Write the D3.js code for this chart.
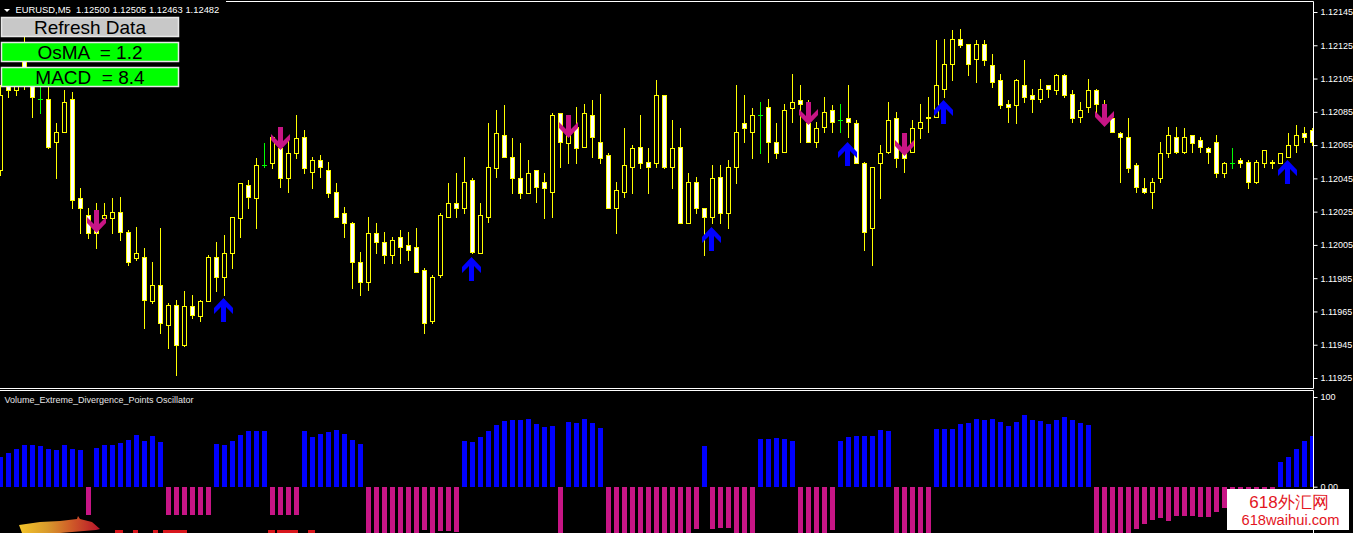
<!DOCTYPE html>
<html>
<head>
<meta charset="utf-8">
<title>EURUSD,M5</title>
<script src="https://cdn.jsdelivr.net/npm/d3@7"></script>
<style>
    html, body { margin: 0; padding: 0; background: #000; overflow: hidden; }
    #chart svg { display: block; }
    text { font-family: "Liberation Sans", Arial, sans-serif; }
    .axis text { font-size: 9px; fill: #fff; }
    .axis line { stroke: #fff; }
</style>
</head>
<body>
<div id="chart"></div>
<script>
// Candles, oldest on the left
const opens = [
    1.12050, 1.12107, 1.12098, 1.12125, 1.12102, 1.12093, 1.12093, 1.12067, 1.12073, 1.12093,
    1.12033, 1.12023, 1.12017, 1.12021, 1.12021, 1.12025, 1.12013, 1.11997, 1.11998, 1.11971,
    1.11981, 1.11957, 1.11969, 1.11945, 1.11968, 1.11962, 1.11971, 1.11998, 1.11986, 1.12000,
    1.12021, 1.12041, 1.12033, 1.12053, 1.12054, 1.12063, 1.12045, 1.12060, 1.12070, 1.12049,
    1.12056, 1.12050, 1.12037, 1.12024, 1.12018, 1.11995, 1.11983, 1.12012, 1.12007, 1.11999,
    1.12010, 1.12005, 1.12004, 1.11990, 1.11959, 1.11987, 1.12022, 1.12030, 1.12027, 1.12044,
    1.12000, 1.12022, 1.12051, 1.12071, 1.12058, 1.12045, 1.12036, 1.12050, 1.12043, 1.12037,
    1.12084, 1.12066, 1.12076, 1.12064, 1.12083, 1.12067, 1.12059, 1.12027, 1.12037, 1.12052,
    1.12064, 1.12055, 1.12054, 1.12095, 1.12052, 1.12064, 1.12018, 1.12043, 1.12027, 1.12022,
    1.12046, 1.12024, 1.12052, 1.12078, 1.12073, 1.12083, 1.12088, 1.12067, 1.12061, 1.12087,
    1.12092, 1.12078, 1.12067, 1.12076, 1.12086, 1.12080, 1.12081, 1.12078, 1.12054, 1.12015,
    1.12054, 1.12061, 1.12081, 1.12061, 1.12061, 1.12075, 1.12082, 1.12082, 1.12099, 1.12114,
    1.12129, 1.12126, 1.12117, 1.12126, 1.12113, 1.12104, 1.12090, 1.12089, 1.12101, 1.12095,
    1.12093, 1.12101, 1.12098, 1.12107, 1.12096, 1.12082, 1.12088, 1.12098, 1.12090, 1.12081,
    1.12072, 1.12070, 1.12053, 1.12039, 1.12037, 1.12045, 1.12060, 1.12070, 1.12061, 1.12071,
    1.12068, 1.12063, 1.12067, 1.12048, 1.12054, 1.12056, 1.12055, 1.12043, 1.12054, 1.12055,
    1.12054, 1.12058, 1.12065, 1.12072, 1.12074
];
const highs = [
    1.12101, 1.12110, 1.12107, 1.12130, 1.12104, 1.12101, 1.12102, 1.12078, 1.12098, 1.12097,
    1.12039, 1.12027, 1.12030, 1.12030, 1.12033, 1.12034, 1.12014, 1.12016, 1.12003, 1.11995,
    1.12015, 1.11970, 1.11972, 1.11977, 1.11975, 1.11972, 1.11999, 1.12007, 1.12011, 1.12022,
    1.12042, 1.12044, 1.12057, 1.12066, 1.12070, 1.12076, 1.12069, 1.12083, 1.12074, 1.12058,
    1.12059, 1.12055, 1.12042, 1.12028, 1.12019, 1.12001, 1.12022, 1.12018, 1.12013, 1.12010,
    1.12014, 1.12013, 1.12015, 1.11991, 1.11987, 1.12024, 1.12042, 1.12048, 1.12058, 1.12045,
    1.12030, 1.12078, 1.12086, 1.12089, 1.12069, 1.12066, 1.12056, 1.12050, 1.12048, 1.12084,
    1.12084, 1.12083, 1.12088, 1.12090, 1.12092, 1.12096, 1.12060, 1.12043, 1.12075, 1.12065,
    1.12083, 1.12063, 1.12104, 1.12095, 1.12080, 1.12075, 1.12048, 1.12046, 1.12027, 1.12053,
    1.12053, 1.12056, 1.12101, 1.12095, 1.12087, 1.12091, 1.12093, 1.12078, 1.12090, 1.12108,
    1.12101, 1.12092, 1.12079, 1.12094, 1.12089, 1.12090, 1.12101, 1.12080, 1.12055, 1.12052,
    1.12065, 1.12091, 1.12085, 1.12068, 1.12080, 1.12090, 1.12094, 1.12128, 1.12129, 1.12134,
    1.12135, 1.12126, 1.12128, 1.12128, 1.12120, 1.12108, 1.12092, 1.12105, 1.12116, 1.12099,
    1.12105, 1.12101, 1.12108, 1.12108, 1.12098, 1.12091, 1.12105, 1.12099, 1.12092, 1.12082,
    1.12073, 1.12081, 1.12054, 1.12045, 1.12045, 1.12067, 1.12076, 1.12076, 1.12075, 1.12071,
    1.12070, 1.12064, 1.12071, 1.12055, 1.12063, 1.12057, 1.12056, 1.12056, 1.12062, 1.12056,
    1.12060, 1.12072, 1.12077, 1.12076, 1.12075
];
const lows = [
    1.12047, 1.12094, 1.12095, 1.12099, 1.12082, 1.12084, 1.12063, 1.12045, 1.12073, 1.12027,
    1.12012, 1.12009, 1.12003, 1.12019, 1.12012, 1.12008, 1.11993, 1.11996, 1.11955, 1.11970,
    1.11952, 1.11943, 1.11927, 1.11944, 1.11961, 1.11959, 1.11971, 1.11977, 1.11975, 1.11991,
    1.12010, 1.12027, 1.12015, 1.12052, 1.12051, 1.12040, 1.12037, 1.12057, 1.12048, 1.12039,
    1.12046, 1.12034, 1.12022, 1.12010, 1.11979, 1.11975, 1.11978, 1.12000, 1.11994, 1.11994,
    1.11994, 1.11996, 1.11989, 1.11952, 1.11958, 1.11986, 1.12022, 1.12022, 1.12024, 1.12000,
    1.12000, 1.12019, 1.12046, 1.12058, 1.12036, 1.12033, 1.12036, 1.12031, 1.12021, 1.12022,
    1.12052, 1.12054, 1.12054, 1.12064, 1.12058, 1.12054, 1.12027, 1.12012, 1.12034, 1.12036,
    1.12051, 1.12036, 1.12052, 1.12051, 1.12039, 1.12018, 1.12018, 1.12024, 1.11999, 1.12018,
    1.12018, 1.12015, 1.12042, 1.12067, 1.12057, 1.12060, 1.12055, 1.12057, 1.12061, 1.12079,
    1.12067, 1.12067, 1.12064, 1.12073, 1.12073, 1.12073, 1.12070, 1.12054, 1.12002, 1.11993,
    1.12033, 1.12060, 1.12052, 1.12049, 1.12061, 1.12069, 1.12073, 1.12082, 1.12094, 1.12104,
    1.12124, 1.12107, 1.12103, 1.12113, 1.12100, 1.12087, 1.12079, 1.12078, 1.12091, 1.12085,
    1.12091, 1.12094, 1.12096, 1.12094, 1.12079, 1.12079, 1.12085, 1.12085, 1.12081, 1.12073,
    1.12043, 1.12049, 1.12037, 1.12036, 1.12027, 1.12043, 1.12058, 1.12060, 1.12060, 1.12061,
    1.12061, 1.12054, 1.12046, 1.12046, 1.12051, 1.12052, 1.12039, 1.12042, 1.12052, 1.12051,
    1.12054, 1.12058, 1.12061, 1.12067, 1.12065
];
const closes = [
    1.12095, 1.12098, 1.12104, 1.12101, 1.12094, 1.12093, 1.12064, 1.12073, 1.12091, 1.12032,
    1.12027, 1.12012, 1.12012, 1.12023, 1.12025, 1.12013, 1.11995, 1.12000, 1.11972, 1.11981,
    1.11958, 1.11969, 1.11945, 1.11968, 1.11963, 1.11971, 1.11998, 1.11986, 1.12000, 1.12022,
    1.12042, 1.12034, 1.12053, 1.12053, 1.12070, 1.12045, 1.12060, 1.12069, 1.12051, 1.12056,
    1.12052, 1.12036, 1.12022, 1.12018, 1.11995, 1.11983, 1.12012, 1.12007, 1.11999, 1.12008,
    1.12004, 1.12002, 1.11989, 1.11958, 1.11986, 1.12023, 1.12030, 1.12027, 1.12043, 1.12001,
    1.12023, 1.12052, 1.12072, 1.12058, 1.12045, 1.12036, 1.12048, 1.12040, 1.12039, 1.12083,
    1.12067, 1.12071, 1.12063, 1.12084, 1.12070, 1.12057, 1.12027, 1.12038, 1.12053, 1.12063,
    1.12054, 1.12052, 1.12095, 1.12052, 1.12063, 1.12018, 1.12043, 1.12027, 1.12022, 1.12045,
    1.12024, 1.12052, 1.12073, 1.12075, 1.12083, 1.12083, 1.12067, 1.12060, 1.12086, 1.12091,
    1.12090, 1.12067, 1.12075, 1.12085, 1.12079, 1.12080, 1.12079, 1.12054, 1.12013, 1.12052,
    1.12060, 1.12080, 1.12057, 1.12057, 1.12075, 1.12079, 1.12081, 1.12101, 1.12114, 1.12129,
    1.12125, 1.12114, 1.12126, 1.12116, 1.12103, 1.12089, 1.12088, 1.12104, 1.12094, 1.12093,
    1.12099, 1.12099, 1.12107, 1.12095, 1.12081, 1.12086, 1.12098, 1.12090, 1.12082, 1.12073,
    1.12070, 1.12051, 1.12040, 1.12037, 1.12043, 1.12060, 1.12071, 1.12061, 1.12070, 1.12066,
    1.12064, 1.12061, 1.12048, 1.12054, 1.12054, 1.12054, 1.12043, 1.12055, 1.12062, 1.12054,
    1.12060, 1.12065, 1.12071, 1.12070, 1.12067
];

// Signal arrows (bar index, price at the top of the glyph)
const sellArrowBars = [12, 35, 71, 101, 113, 138];
const sellArrowPrices = [1.12026, 1.12076, 1.12083, 1.12091, 1.12072, 1.12090];
const buyArrowBars = [28, 59, 89, 106, 118, 161];
const buyArrowPrices = [1.11973, 1.11998, 1.12016, 1.12067, 1.12092, 1.12056];

// Volume_Extreme_Divergence_Points Oscillator, one value per candle
const oscValues = [
    33.4, 37.6, 42.0, 46.5, 46.5, 45.4, 42.4, 40.9, 46.5, 42.4,
    40.9, -31.6, 43.1, 46.5, 46.5, 48.7, 52.1, 57.6, 50.9, 56.5,
    49.8, -31.6, -31.6, -31.6, -31.6, -31.6, -31.6, 47.6, 46.5, 50.9,
    57.6, 62.1, 62.1, 62.1, -31.6, -31.6, -31.6, -31.6, 62.1, 55.4,
    58.8, 61.0, 63.2, 58.8, 52.1, 47.6, -62, -62, -62, -62,
    -62, -62, -62, -48.1, -62, -49, -49, -50, 50.9, 49.8,
    55.4, 62.1, 68.8, 73.2, 74.4, 74.4, 75.5, 69.9, 66.6, 67.7,
    -62, 72.1, 71.0, 75.5, 71.0, 65.4, -62, -62, -62, -62,
    -62, -62, -62, -62, -62, -62, -62, -47.2, 45.4, -47.2,
    -46, -46, -62, -62, -62, 53.2, 53.2, 54.3, 53.2, 50.9,
    -62, -62, -62, -62, -48.1, 50.9, 55.4, 56.5, 56.5, 56.5,
    63.2, 62.1, -62, -62, -62, -62, -62, 64.3, 64.3, 64.3,
    69.9, 71.0, 75.5, 74.4, 75.5, 72.1, 67.7, 72.1, 79.9, 74.4,
    73.2, 69.9, 74.4, 77.7, 74.4, 71.0, 68.8, -62, -62, -62,
    -62, -62, -47.2, -41.6, -37.1, -34.9, -38.2, -32.7, -32.7, -32.7,
    -33.8, -33.8, -28.2, -23.7, -20, -17, -15, -12, -9, -6,
    27.5, 33.1, 42.0, 50.9, 56.5
];

const priceTicks = [1.11925, 1.11945, 1.11965, 1.11985, 1.12005, 1.12025,
                    1.12045, 1.12065, 1.12085, 1.12105, 1.12125, 1.12145];
const oscTicks = [0, 100];

const headerText = "EURUSD,M5  1.12500 1.12505 1.12463 1.12482";
const oscTitle = "Volume_Extreme_Divergence_Points Oscillator";
const buttonLabels = ["Refresh Data", "OsMA  = 1.2", "MACD  = 8.4"];
const buttonColors = ["#c8c8c8", "#00ff00", "#00ff00"];


class MtChart {
    constructor(_config = {}) {
        this.config = {
            parentElement: _config.parentElement,
            containerWidth: 1353,
            containerHeight: 533,
            plotRight: 1313,
            barSpacing: 8,
            mainBottom: 388,
            subTop: 391,
            bullColor: "#000000",
            bearColor: "#ffffff",
            candleColor: "#ffff00",
            dojiColor: "#00ff00",
            sellColor: "#c71585",
            buyColor: "#0000ff"
        };
        this.initVis();
    }

    initVis() {
        let vis = this;
        let { parentElement, containerWidth, containerHeight, plotRight, barSpacing, mainBottom, subTop } = vis.config;

        vis.svg = d3.select(parentElement)
            .append("svg")
            .attr("width", containerWidth)
            .attr("height", containerHeight);

        vis.svg.append("rect")
            .attr("width", containerWidth)
            .attr("height", containerHeight)
            .attr("fill", "#000");

        let defs = vis.svg.append("defs");
        defs.append("clipPath").attr("id", "clip-main")
            .append("rect").attr("x", 0).attr("y", 2).attr("width", plotRight).attr("height", mainBottom - 2);
        defs.append("clipPath").attr("id", "clip-sub")
            .append("rect").attr("x", 0).attr("y", subTop + 1).attr("width", plotRight).attr("height", containerHeight - subTop);

        // Scales

        let n = opens.length;
        vis.x = d3.scaleLinear()
            .domain([0, n - 1])
            .range([0.5, 0.5 + barSpacing * (n - 1)]);

        vis.y = d3.scaleLinear()
            .domain([1.11925, 1.12145])
            .range([378, 12]);

        vis.oscY = d3.scaleLinear()
            .domain([0, 100])
            .range([486.7, 397]);

        vis.candles = d3.range(n).map(i => ({ i, o: opens[i], h: highs[i], l: lows[i], c: closes[i] }));

        vis.renderVis();
    }

    renderVis() {
        let vis = this;
        let { plotRight, mainBottom, subTop, containerHeight } = vis.config;
        let cfg = vis.config;

        // Candles

        let main = vis.svg.append("g").attr("clip-path", "url(#clip-main)");

        main.selectAll("line.wick")
            .data(vis.candles)
            .join("line")
            .attr("class", "wick")
            .attr("x1", d => vis.x(d.i))
            .attr("x2", d => vis.x(d.i))
            .attr("y1", d => Math.round(vis.y(d.h)))
            .attr("y2", d => Math.round(vis.y(d.l)) + 1)
            .attr("stroke", d => d.o === d.c ? cfg.dojiColor : cfg.candleColor)
            .attr("stroke-width", 1);

        main.selectAll("rect.body")
            .data(vis.candles.filter(d => d.o !== d.c))
            .join("rect")
            .attr("class", "body")
            .attr("x", d => vis.x(d.i) - 2)
            .attr("y", d => Math.round(vis.y(Math.max(d.o, d.c))) + 0.5)
            .attr("width", 4)
            .attr("height", d => Math.max(1, Math.round(vis.y(Math.min(d.o, d.c))) - Math.round(vis.y(Math.max(d.o, d.c)))))
            .attr("fill", d => d.c < d.o ? cfg.bearColor : cfg.bullColor)
            .attr("stroke", cfg.candleColor)
            .attr("stroke-width", 1);

        main.selectAll("line.doji")
            .data(vis.candles.filter(d => d.o === d.c))
            .join("line")
            .attr("class", "doji")
            .attr("x1", d => vis.x(d.i) - 2.5)
            .attr("x2", d => vis.x(d.i) + 2.5)
            .attr("y1", d => Math.round(vis.y(d.o)) + 0.5)
            .attr("y2", d => Math.round(vis.y(d.o)) + 0.5)
            .attr("stroke", cfg.dojiColor);

        // Arrows

        const downArrow = (cx, t) => `M${cx - 2.5},${t}L${cx + 2.5},${t}L${cx + 2.5},${t + 14}L${cx + 9.5},${t + 7}` +
            `L${cx + 9.5},${t + 13}L${cx},${t + 23}L${cx - 9.5},${t + 13}L${cx - 9.5},${t + 7}L${cx - 2.5},${t + 14}Z`;
        const upArrow = (cx, t) => `M${cx},${t}L${cx + 9.5},${t + 10}L${cx + 9.5},${t + 16}L${cx + 2.5},${t + 9}` +
            `L${cx + 2.5},${t + 24}L${cx - 2.5},${t + 24}L${cx - 2.5},${t + 9}L${cx - 9.5},${t + 16}L${cx - 9.5},${t + 10}Z`;

        main.selectAll("path.sell")
            .data(sellArrowBars.map((b, i) => ({ b, p: sellArrowPrices[i] })))
            .join("path")
            .attr("class", "sell")
            .attr("d", d => downArrow(vis.x(d.b), Math.round(vis.y(d.p))))
            .attr("fill", cfg.sellColor);

        main.selectAll("path.buy")
            .data(buyArrowBars.map((b, i) => ({ b, p: buyArrowPrices[i] })))
            .join("path")
            .attr("class", "buy")
            .attr("d", d => upArrow(vis.x(d.b) - 1, Math.round(vis.y(d.p))))
            .attr("fill", cfg.buyColor);

        // Oscillator

        let sub = vis.svg.append("g").attr("clip-path", "url(#clip-sub)");
        let zero = Math.round(vis.oscY(0));

        sub.selectAll("rect.osc")
            .data(oscValues)
            .join("rect")
            .attr("class", "osc")
            .attr("x", (d, i) => vis.x(i) - 2.5)
            .attr("y", d => d >= 0 ? Math.round(vis.oscY(d)) : zero)
            .attr("width", 5)
            .attr("height", d => Math.abs(Math.round(vis.oscY(d)) - zero))
            .attr("fill", d => d >= 0 ? cfg.buyColor : cfg.sellColor);

        // Frames

        let frame = vis.svg.append("g").attr("stroke", "#fff").attr("stroke-width", 1);
        frame.append("line").attr("x1", 226).attr("x2", plotRight + 0.5).attr("y1", 1.5).attr("y2", 1.5);
        frame.append("line").attr("x1", plotRight + 0.5).attr("x2", plotRight + 0.5).attr("y1", 1.5).attr("y2", mainBottom + 0.5);
        frame.append("line").attr("x1", 0).attr("x2", plotRight + 0.5).attr("y1", mainBottom + 0.5).attr("y2", mainBottom + 0.5);
        frame.append("line").attr("x1", 0).attr("x2", plotRight + 0.5).attr("y1", subTop - 0.5).attr("y2", subTop - 0.5);
        frame.append("line").attr("x1", plotRight + 0.5).attr("x2", plotRight + 0.5).attr("y1", subTop - 0.5).attr("y2", containerHeight);

        // Axes

        vis.svg.append("g")
            .attr("class", "axis")
            .attr("transform", `translate(${plotRight + 0.5},0)`)
            .call(d3.axisRight(vis.y).tickValues(priceTicks).tickSize(4).tickPadding(3).tickFormat(d3.format(".5f")))
            .call(g => g.select(".domain").remove());

        vis.svg.append("g")
            .attr("class", "axis")
            .attr("transform", `translate(${plotRight + 0.5},0)`)
            .call(d3.axisRight(vis.oscY).tickValues(oscTicks).tickSize(4).tickPadding(3).tickFormat(d => d === 0 ? "0.00" : "100"))
            .call(g => g.select(".domain").remove());

        // Header and titles

        vis.svg.append("path")
            .attr("d", "M4,9L10,9L7,12Z")
            .attr("fill", "#fff");

        vis.svg.append("text")
            .attr("x", 15.5)
            .attr("y", 12.5)
            .attr("fill", "#fff")
            .attr("font-size", "9.4px")
            .style("white-space", "pre")
            .text(headerText);

        vis.svg.append("text")
            .attr("x", 4.5)
            .attr("y", 403)
            .attr("fill", "#e6e6e6")
            .attr("font-size", "9px")
            .text(oscTitle);

        // Panel buttons

        let buttons = vis.svg.selectAll("g.button")
            .data(buttonLabels)
            .join("g")
            .attr("class", "button")
            .attr("transform", (d, i) => `translate(1.5,${17.5 + i * 25})`);

        buttons.append("rect")
            .attr("width", 177)
            .attr("height", 19)
            .attr("fill", (d, i) => buttonColors[i])
            .attr("stroke", "#e8e8e8")
            .attr("stroke-width", 1.5);

        buttons.append("text")
            .attr("x", 88.5)
            .attr("y", 16)
            .attr("text-anchor", "middle")
            .attr("font-size", "19px")
            .attr("fill", "#000")
            .style("white-space", "pre")
            .text(d => d);

        // Source site stamps

        let grad = vis.svg.select("defs").append("linearGradient")
            .attr("id", "swoosh").attr("x1", "0%").attr("x2", "100%");
        grad.append("stop").attr("offset", "0%").attr("stop-color", "#f3c42a");
        grad.append("stop").attr("offset", "35%").attr("stop-color", "#d99a2c");
        grad.append("stop").attr("offset", "65%").attr("stop-color", "#cf5a28");
        grad.append("stop").attr("offset", "100%").attr("stop-color", "#b8142a");

        vis.svg.append("path")
            .attr("d", "M19,525L40,522L60,521L77,519L78,516L80,519L92,522L100,529L96,530L60,533L22,533Z")
            .attr("fill", "url(#swoosh)");

        vis.svg.selectAll("rect.stamp")
            .data([[115, 8], [133, 5], [153, 5], [163, 24], [268, 7], [277, 21], [308, 7]])
            .join("rect")
            .attr("class", "stamp")
            .attr("x", d => d[0])
            .attr("y", 530)
            .attr("width", d => d[1])
            .attr("height", 3)
            .attr("fill", "#d8161c");

        vis.svg.append("rect")
            .attr("x", 1227)
            .attr("y", 489)
            .attr("width", 122)
            .attr("height", 41)
            .attr("fill", "#fff");

        vis.svg.append("text")
            .attr("x", 1289)
            .attr("y", 507.5)
            .attr("text-anchor", "middle")
            .attr("font-family", "'Noto Sans CJK SC', sans-serif")
            .attr("font-size", "17px")
            .attr("fill", "#e3161e")
            .text("618外汇网");

        vis.svg.append("text")
            .attr("x", 1290.5)
            .attr("y", 525)
            .attr("text-anchor", "middle")
            .attr("font-family", "'Liberation Mono', monospace")
            .attr("font-size", "14.7px")
            .attr("fill", "#e3161e")
            .text("618waihui.com");
    }
}

new MtChart({ parentElement: "#chart" });
</script>
</body>
</html>
